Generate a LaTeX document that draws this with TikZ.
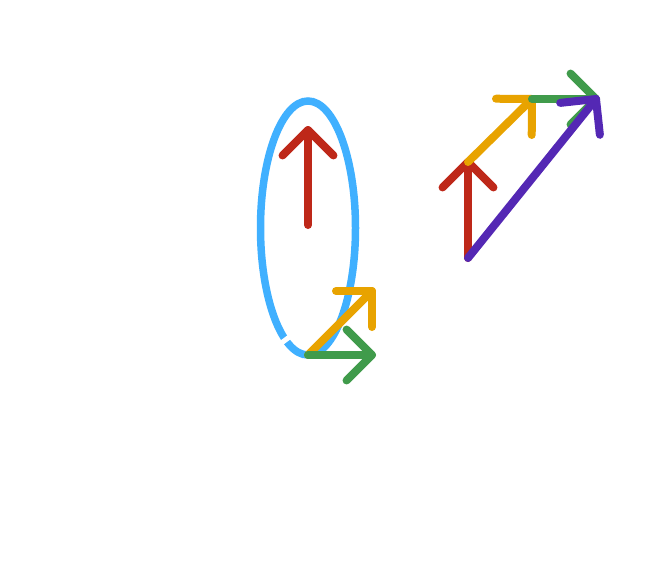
\documentclass[tikz,border=0pt]{standalone}
\usetikzlibrary{calc,shapes.geometric}
\definecolor{cblue}{RGB}{64,176,255}
\definecolor{cred}{RGB}{190,40,25}
\definecolor{corange}{RGB}{232,163,0}
\definecolor{cgreen}{RGB}{64,155,75}
\definecolor{cpurple}{RGB}{84,40,180}
\tikzset{
  vec/.style={line width=8pt, line cap=round, line join=round},
}
\newcommand{\vecarrow}[3]{%
  \draw[vec,#1] (#2) -- (#3);
  \draw[vec,#1] ($(#3)!36pt!45:(#2)$) -- (#3) -- ($(#3)!36pt!-45:(#2)$);
}
\begin{document}
\begin{tikzpicture}[x=1pt,y=-1pt]
\useasboundingbox (0,0) rectangle (664,584);
% left group
\node[draw=cblue, line width=7.5pt, ellipse, minimum width=95pt, minimum height=254pt, inner sep=0pt] (ell) at (308,228) {};
\draw[white, line width=5pt] (280,344) -- (292,335);
\coordinate (rs) at (308,225);
\coordinate (rt) at (308,130);
\coordinate (o) at (308,355);
\coordinate (ot) at (372,291);
\coordinate (gt) at (372,355);
\vecarrow{cred}{rs}{rt}
\vecarrow{corange}{o}{ot}
\vecarrow{cgreen}{o}{gt}
% right group
\coordinate (A) at (468,258);
\coordinate (B) at (468,162);
\coordinate (C) at (532,99);
\coordinate (D) at (596,99);
\vecarrow{cred}{A}{B}
\vecarrow{corange}{B}{C}
\vecarrow{cgreen}{C}{D}
\vecarrow{cpurple}{A}{D}
\end{tikzpicture}
\end{document}
